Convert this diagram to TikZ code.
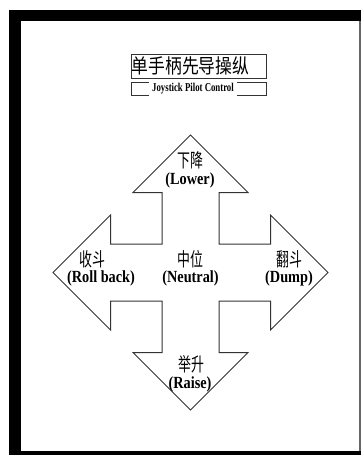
\documentclass[tikz,border=0pt]{standalone}
\usepackage{fontspec}
\usepackage{graphicx}
\setmainfont{Liberation Serif}
\newfontfamily\cjk{Noto Sans CJK SC}
\newcommand{\squeeze}[2]{\scalebox{#1}[1]{#2}}

\begin{document}
\begin{tikzpicture}[x=1pt, y=-1pt, line join=miter,
	cn/.style={inner sep=0pt, font=\cjk\fontsize{19}{19}\selectfont},
	en/.style={inner sep=0pt, font=\bfseries\fontsize{17}{17}\selectfont},
	outline/.style={draw=black!80, line width=1pt}]

\useasboundingbox (0,0) rectangle (361,455);

% Frame
\fill[black] (9,10) rectangle (361,455);
\fill[white] (21,21) rectangle (359,451);
\fill[black!60] (359,21) rectangle (361,451);

%Coordinates
\coordinate (C) at (190.5,272.5);

% Title boxes
\draw[outline] (131,54) rectangle (266,78);
\draw[outline] (131,82) rectangle (266,95);
\node[cn, anchor=west, font=\cjk\fontsize{20}{20}\selectfont] (title) at (131.5,66) {\squeeze{0.84}{单手柄先导操纵}};
\node[fill=white, inner xsep=3pt, inner ysep=0pt, minimum height=17pt,
	font=\bfseries\fontsize{12}{12}\selectfont] (subtitle) at (193,89) {\squeeze{0.73}{Joystick Pilot Control}};

% Cross with four arrow heads
\draw[outline, shift={(C)}]
	(-28.5,-28.5) -- (-28.5,-80) -- (-57.5,-80) -- (0,-137.5) -- (57.5,-80) -- (28.5,-80)
	-- (28.5,-28.5) -- (80,-28.5) -- (80,-57.5) -- (137.5,0) -- (80,57.5) -- (80,28.5)
	-- (28.5,28.5) -- (28.5,80) -- (57.5,80) -- (0,137.5) -- (-57.5,80) -- (-28.5,80)
	-- (-28.5,28.5) -- (-80,28.5) -- (-80,57.5) -- (-137.5,0) -- (-80,-57.5) -- (-80,-28.5)
	-- cycle;

% Nodes
\node[cn] (lowercn) at (190,160) {\squeeze{0.68}{下降}};
\node[en] (loweren) at (190,180) {\squeeze{0.84}{(Lower)}};

\node[cn] (rollcn) at (92.5,259) {\squeeze{0.68}{收斗}};
\node[en] (rollen) at (101,278) {\squeeze{0.84}{(Roll back)}};

\node[cn] (neutralcn) at (190,259) {\squeeze{0.68}{中位}};
\node[en] (neutralen) at (190.5,278) {\squeeze{0.84}{(Neutral)}};

\node[cn] (dumpcn) at (289,259) {\squeeze{0.68}{翻斗}};
\node[en] (dumpen) at (289,278) {\squeeze{0.84}{(Dump)}};

\node[cn] (raisecn) at (191,364) {\squeeze{0.68}{举升}};
\node[en] (raiseen) at (190,384) {\squeeze{0.84}{(Raise)}};

\end{tikzpicture}
\end{document}
